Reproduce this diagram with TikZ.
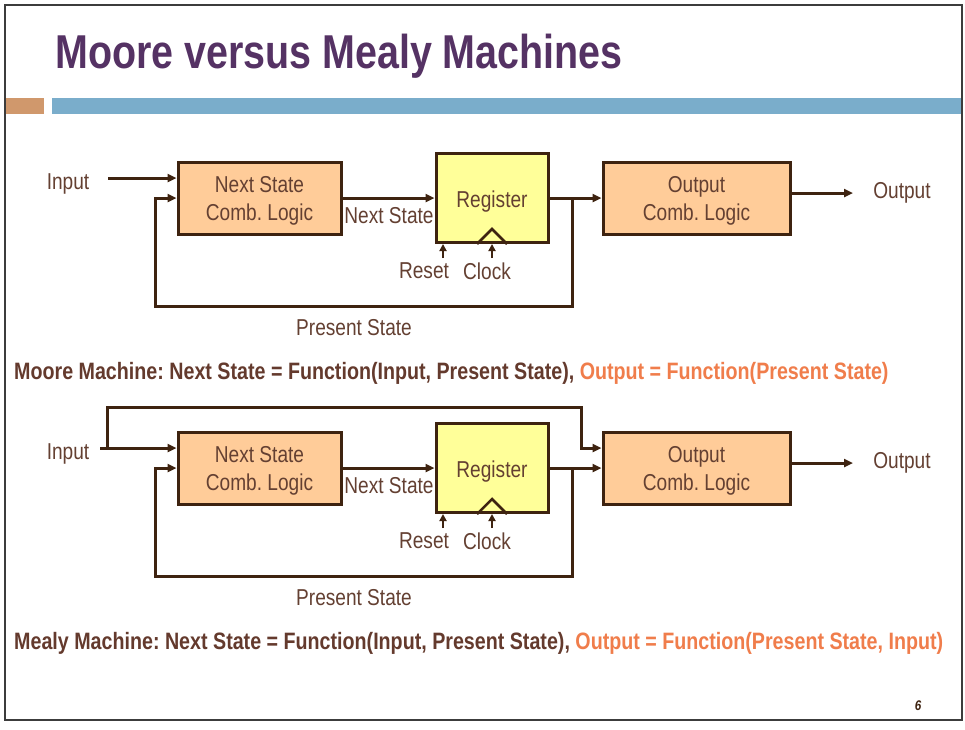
\documentclass[tikz,border=0pt]{standalone}
\usepackage{fontspec}
\setmainfont[FakeStretch=0.83]{Liberation Sans}
\usetikzlibrary{arrows.meta}
\frenchspacing

\definecolor{lc}{RGB}{62,35,16}
\definecolor{txt}{RGB}{100,64,50}
\definecolor{boldtxt}{RGB}{100,58,45}
\definecolor{accent}{RGB}{240,125,75}
\definecolor{peach}{RGB}{255,204,153}
\definecolor{lemon}{RGB}{255,255,153}
\definecolor{titlepurple}{RGB}{85,50,100}
\definecolor{barblue}{RGB}{122,173,203}
\definecolor{bartan}{RGB}{208,152,108}
\definecolor{frame}{RGB}{60,60,60}

\newcommand\bodyfont{\fontsize{23}{28}\selectfont}
\newcommand\eqfont{\fontsize{23.7}{28}\selectfont\bfseries}

% One state machine: next-state logic, register, output logic and feedback
\newcommand\fsmblock[2]{%
\begin{scope}[shift={(0,#2)}]
  \node[logic] (#1ns) at (259.5,198) {Next State\\Comb. Logic};
  \node[regbox] (#1reg) at (492,198) {\raisebox{-2pt}{Register}};
  \node[logic, minimum width=187pt] (#1out) at (696.5,198) {Output\\Comb. Logic};
  % next state into the register
  \draw[conn] (#1ns.east) -- (#1reg.west);
  \node[tag] (#1nslbl) at (389,216) {Next State};
  % register to output logic, with the present-state feedback
  \draw[conn] (#1reg.east) -- (#1out.west);
  \coordinate (#1tap) at (572,198);
  \coordinate (#1fb) at (155,306);
  \draw[conn] (#1tap) |- (#1fb) |- (#1ns.west);
  \node[tag] (#1pslbl) at (354,328) {Present State};
  % clock edge symbol and the two control pins
  \draw[lc, line width=2.5pt, line join=miter]
    (#1reg.south) ++(-15,0) -- ++(15,-15) -- ++(15,15);
  \coordinate (#1rstpin) at (443,258);
  \coordinate (#1clkpin) at (492,258);
  \draw[pin] (#1rstpin) -- (#1rstpin |- #1reg.south);
  \draw[pin] (#1clkpin) -- (#1clkpin |- #1reg.south);
  \node[tag] (#1rst) at (424,271) {Reset};
  \node[tag] (#1clk) at (487,271) {Clock};
  % output port
  \coordinate (#1outend) at (853,193);
  \draw[conn] (#1out.east |- #1outend) -- (#1outend);
  \node[tag] (#1outlbl) at (902,193) {Output};
\end{scope}}

\begin{document}
\begin{tikzpicture}[x=1pt,y=-1pt,
  every node/.style={inner sep=0pt, text=txt, font=\bodyfont},
  logic/.style={draw=lc, line width=3pt, fill=peach, minimum width=163pt,
    minimum height=72pt, align=center, text depth=0pt},
  regbox/.style={draw=lc, line width=3pt, fill=lemon, minimum width=112pt,
    minimum height=89pt, text depth=0pt},
  conn/.style={draw=lc, line width=3pt, -{Triangle[length=9pt,width=8pt]}},
  pin/.style={draw=lc, line width=2.5pt, -{Triangle[length=7pt,width=7pt]}},
  tag/.style={anchor=center}]
\useasboundingbox (0,0) rectangle (965,729);
\fill[white] (0,0) rectangle (965,729);

% slide frame and header
\draw[frame, line width=2.5pt] (5,5) rectangle (962,720);
\fill[bartan] (6,98) rectangle (44,114);
\fill[barblue] (52,98) rectangle (961,114);
\node[anchor=base west, text=titlepurple, font=\fontsize{47.5}{47.5}\selectfont\bfseries]
  (title) at (55,68) {Moore versus Mealy Machines};

% Moore machine
\fsmblock{mo}{0}
\node[tag] (moinlbl) at (68,184) {Input};
\coordinate (moin) at (108,178);
\draw[conn] (moin) -- (moin -| mons.west);
\node[anchor=base west, font=\eqfont, text=boldtxt] (moeq) at (14,379)
  {Moore Machine: Next State = Function(Input, Present State), \textcolor{accent}{Output = Function(Present State)}};

% Mealy machine
\fsmblock{me}{270}
\node[tag] (meinlbl) at (68,454) {Input};
\coordinate (mein) at (100,448);
\coordinate (mebr) at (107,448);
\coordinate (metopl) at (107,407);
\coordinate (metopr) at (581,407);
\draw[conn] (mein) -- (mein -| mens.west);
\draw[conn] (mebr) -- (metopl) -- (metopr) |- (meout.west |- mebr);
\node[anchor=base west, font=\eqfont, text=boldtxt] (meeq) at (14,649)
  {Mealy Machine: Next State = Function(Input, Present State), \textcolor{accent}{Output = Function(Present State, Input)}};

% page number
\node[font=\fontsize{14}{14}\selectfont\bfseries\itshape, text=lc] (pagenum) at (918,706) {6};
\end{tikzpicture}
\end{document}
